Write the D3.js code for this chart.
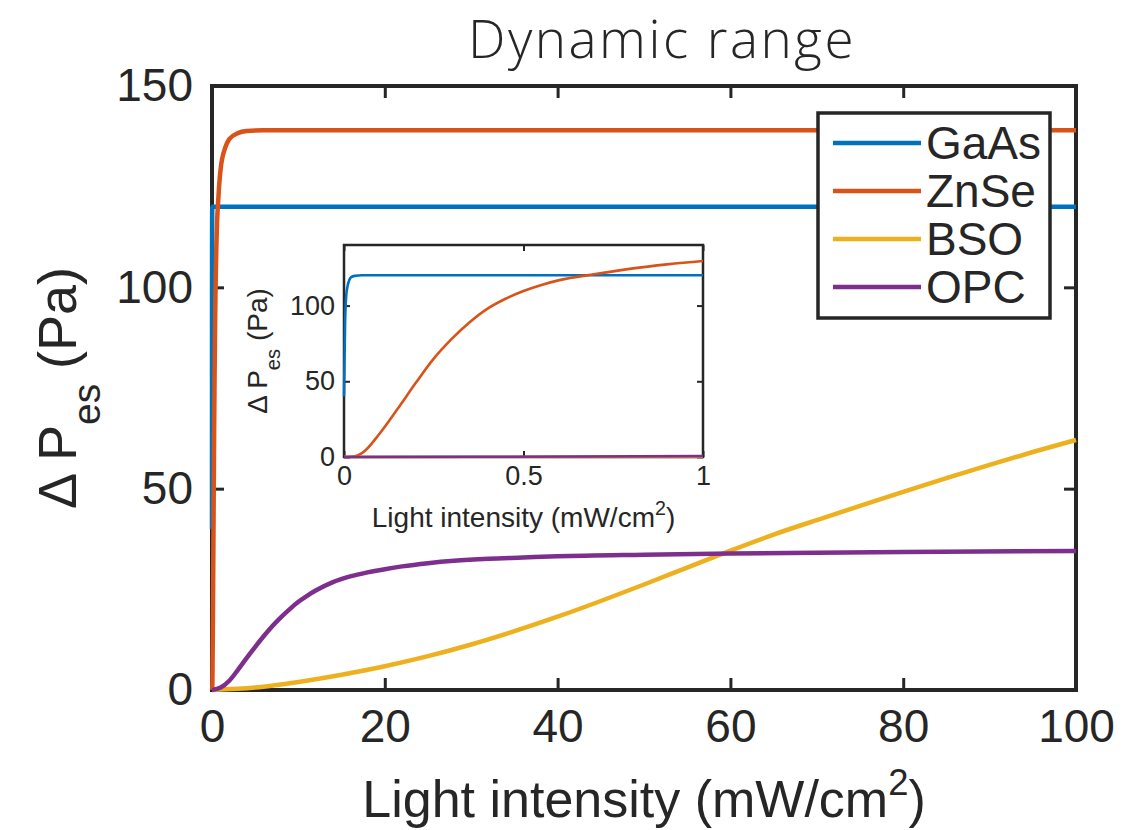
<!DOCTYPE html>
<html>
<head>
<meta charset="utf-8">
<script src="https://cdn.jsdelivr.net/npm/d3@7"></script>
<style>
  body { margin: 0; background: #fff; }
  svg { display: block; font-family: "Liberation Sans", Arial, Helvetica, sans-serif; }
  text { fill: #262626; }
</style>
</head>
<body>
<div id="chart"></div>
<script>
// values (light intensity in mW/cm2, pressure in Pa)
var seriesNames = ['GaAs', 'ZnSe', 'BSO', 'OPC'];
var seriesColors = ['#0072bd', '#d95319', '#edb120', '#7e2f8e'];

var gaasX = [0, 0.003, 0.006, 0.01, 0.015, 0.02, 0.03, 0.05, 0.1, 1, 10, 100];
var gaasY = [40, 88, 106, 113, 117, 118.8, 119.6, 120, 120, 120, 120, 120];

var znseX = [0, 0.03, 0.05, 0.1, 0.15, 0.2, 0.25, 0.3, 0.35, 0.4, 0.45, 0.5, 0.55, 0.6, 0.7, 0.8, 0.9, 1, 1.5, 2, 3, 4, 6, 10, 100];
var znseY = [0, 0.5, 2.5, 15.7, 32, 49, 65, 78, 89, 98, 104.5, 109.6, 113.6, 116.8, 120.8, 124.4, 127.2, 129.4, 134.5, 136.8, 138.3, 138.8, 139, 139, 139];

var bsoX = [0, 5, 10, 15, 20, 25, 30, 35, 40, 45, 50, 55, 60, 65, 70, 75, 80, 85, 90, 95, 100];
var bsoY = [0, 0.6, 2, 3.8, 5.9, 8.4, 11.3, 14.6, 18.2, 22.1, 26.2, 30.4, 34.6, 38.6, 42.2, 45.7, 49.2, 52.6, 55.9, 59.1, 62.1];

var opcX = [0, 1, 2, 3, 4, 5, 6, 7, 8, 9, 10, 11, 12, 14, 16, 18, 20, 22, 25, 28, 32, 36, 40, 50, 60, 70, 80, 100];
var opcY = [0, 0.6, 2.3, 5, 7.9, 10.7, 13.4, 15.9, 18.1, 20.1, 21.9, 23.4, 24.7, 26.8, 28.2, 29.2, 30, 30.7, 31.5, 32.1, 32.6, 32.9, 33.2, 33.6, 33.9, 34.1, 34.3, 34.5];

var xTicks = [0, 20, 40, 60, 80, 100];
var yTicks = [0, 50, 100, 150];
var insetXTicks = [0, 0.5, 1];
var insetYTicks = [0, 50, 100];

var allX = [gaasX, znseX, bsoX, opcX];
var allY = [gaasY, znseY, bsoY, opcY];

var series = seriesNames.map(function(name, i) {
    return {
        name: name,
        color: seriesColors[i],
        points: allX[i].map(function(x, j) { return { x: x, y: allY[i][j] }; })
    };
});

var W = 1137, H = 830;
var ink = '#262626';

var svg = d3.select('#chart').append('svg')
    .attr('width', W)
    .attr('height', H);

// draws one MATLAB-like box axes: ticks inward on all four sides
function boxAxes(g, x, y, o) {
    var x0 = x.range()[0], x1 = x.range()[1];
    var y0 = y.range()[0], y1 = y.range()[1];

    g.append('rect')
        .attr('x', x0).attr('y', y1)
        .attr('width', x1 - x0).attr('height', y0 - y1)
        .attr('fill', '#fff');

    var fmt = function(d) { return String(d); };
    var axes = [
        { ax: d3.axisBottom(x).tickValues(o.xTicks).tickFormat(fmt), t: 'translate(0,' + y0 + ')' },
        { ax: d3.axisTop(x).tickValues(o.xTicks).tickFormat(''), t: 'translate(0,' + y1 + ')' },
        { ax: d3.axisLeft(y).tickValues(o.yTicks).tickFormat(fmt), t: 'translate(' + x0 + ',0)' },
        { ax: d3.axisRight(y).tickValues(o.yTicks).tickFormat(''), t: 'translate(' + x1 + ',0)' }
    ];
    axes.forEach(function(a) {
        a.ax.tickSizeInner(-o.tick).tickSizeOuter(0).tickPadding(o.pad);
        var ag = g.append('g').attr('transform', a.t).call(a.ax);
        ag.select('.domain').remove();
        ag.selectAll('.tick line').attr('stroke', ink).attr('stroke-width', o.tickW);
        ag.selectAll('.tick text')
            .attr('fill', ink)
            .style('font-size', o.font + 'px')
            .style('font-family', 'inherit');
    });

    g.append('rect')
        .attr('x', x0).attr('y', y1)
        .attr('width', x1 - x0).attr('height', y0 - y1)
        .attr('fill', 'none')
        .attr('stroke', ink)
        .attr('stroke-width', o.boxW);
}

function drawLines(g, x, y, width) {
    var line = d3.line()
        .x(function(d) { return x(d.x); })
        .y(function(d) { return y(d.y); })
        .curve(d3.curveMonotoneX);
    g.selectAll('path.series')
        .data(series)
        .enter().append('path')
        .classed('series', true)
        .attr('d', function(d) { return line(d.points); })
        .attr('fill', 'none')
        .attr('stroke', function(d) { return d.color; })
        .attr('stroke-width', width)
        .attr('stroke-linejoin', 'round');
}

// "Light intensity (mW/cm^2)"
function xLabel(g, cx, baseY, size) {
    var t = g.append('text')
        .attr('x', cx).attr('y', baseY)
        .attr('text-anchor', 'middle')
        .style('font-size', size + 'px');
    t.append('tspan').text('Light intensity (mW/cm');
    t.append('tspan').attr('dy', -0.42 * size).style('font-size', (0.7 * size) + 'px').text('2');
    t.append('tspan').attr('dy', 0.42 * size).text(')');
}

// "Δ P_es (Pa)", rotated
function yLabel(g, baseX, cy, size) {
    var t = g.append('text')
        .attr('transform', 'translate(' + baseX + ',' + cy + ') rotate(-90)')
        .attr('text-anchor', 'middle')
        .style('font-size', size + 'px');
    t.append('tspan').text('\u0394 P');
    t.append('tspan').attr('dy', 0.45 * size).style('font-size', (0.72 * size) + 'px').text('es');
    t.append('tspan').attr('dy', -0.45 * size).text(' (Pa)');
}

// main axes
var x = d3.scaleLinear().domain([0, 100]).range([212, 1076]);
var y = d3.scaleLinear().domain([0, 150]).range([690, 86]);

var main = svg.append('g');
boxAxes(main, x, y, { xTicks: xTicks, yTicks: yTicks, tick: 12, tickW: 3, pad: 19, font: 46, boxW: 4 });
drawLines(main.append('g'), x, y, 4.5);

xLabel(main, 644, 817, 52);
yLabel(main, 76, 388, 54);

svg.append('text')
    .attr('x', 662).attr('y', 58)
    .attr('text-anchor', 'middle')
    .style('font-family', '"Open Sans", sans-serif')
    .style('font-weight', 300)
    .style('font-size', '53px')
    .style('letter-spacing', '2.5px')
    .attr('fill', '#000')
    .text('Dynamic range');

// inset: zoom on the first 1 mW/cm2
var xi = d3.scaleLinear().domain([0, 1]).range([344, 703]);
var yi = d3.scaleLinear().domain([0, 140]).range([457, 245]);

var inset = svg.append('g');
boxAxes(inset, xi, yi, { xTicks: insetXTicks, yTicks: insetYTicks, tick: 6, tickW: 2, pad: 9, font: 27, boxW: 2.5 });

svg.append('clipPath').attr('id', 'inset-clip')
    .append('rect')
    .attr('x', 340).attr('y', 245)
    .attr('width', 703 - 340).attr('height', 460 - 245);
drawLines(inset.append('g').attr('clip-path', 'url(#inset-clip)'), xi, yi, 2.6);

xLabel(inset, 523.5, 527, 28);
yLabel(inset, 267, 351, 28);

// legend
var legend = svg.append('g').attr('transform', 'translate(818,113)');
legend.append('rect')
    .attr('width', 232).attr('height', 205)
    .attr('fill', '#fff')
    .attr('stroke', ink)
    .attr('stroke-width', 3.5);

var rows = legend.selectAll('g.row')
    .data(series)
    .enter().append('g')
    .classed('row', true)
    .attr('transform', function(d, i) { return 'translate(0,' + (30 + i * 48) + ')'; });
rows.append('line')
    .attr('x1', 15).attr('x2', 103)
    .attr('stroke', function(d) { return d.color; })
    .attr('stroke-width', 4.5);
rows.append('text')
    .attr('x', 108).attr('y', 16)
    .style('font-size', '46px')
    .text(function(d) { return d.name; });
</script>
</body>
</html>
